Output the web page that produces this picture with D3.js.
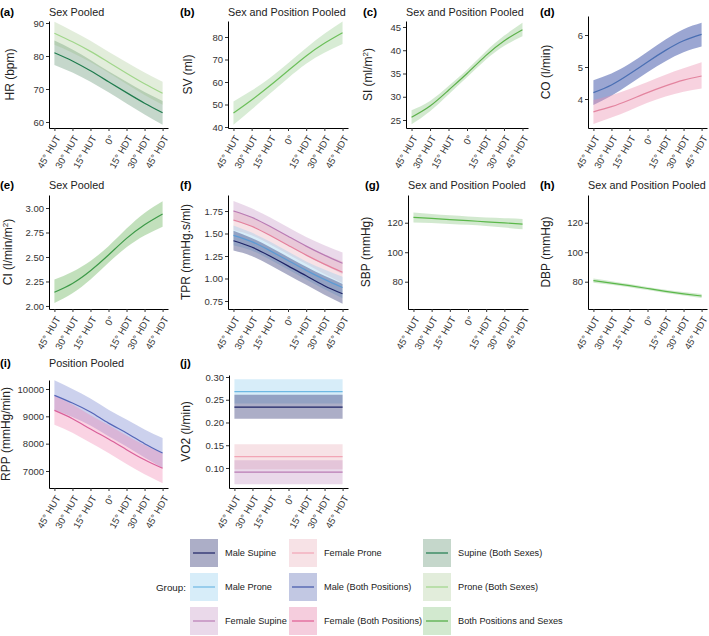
<!DOCTYPE html>
<html>
<head>
<meta charset="utf-8">
<script src="https://cdn.jsdelivr.net/npm/d3@7"></script>
<style>
  body { margin: 0; background: #fff; }
  svg { font-family: "Liberation Sans", Arial, sans-serif; }
  .axis .domain { stroke: #000; stroke-width: 1; }
  .axis .tick line { stroke: #333; stroke-width: 1; }
  .axis .tick text { font-size: 9.5px; fill: #333; }
  .tag { font-size: 11.5px; font-weight: bold; fill: #000; }
  .ptitle { font-size: 10.8px; fill: #222; }
  .ylab { font-size: 12px; fill: #222; }
  .legtext { font-size: 9.2px; fill: #222; }
</style>
</head>
<body>
<svg id="chart" width="709" height="636"></svg>
<script>
// x categories (tilt angle)
const angles = [-45, -30, -15, 0, 15, 30, 45];
const angleLabels = ["45° HUT", "30° HUT", "15° HUT", "0°", "15° HDT", "30° HDT", "45° HDT"];

// (a) HR
const hrSupine   = [81.0, 78.5, 75.5, 72.2, 68.9, 65.7, 62.8];
const hrSupineLo = [77.3, 75.0, 72.2, 69.0, 65.6, 62.3, 59.2];
const hrSupineHi = [84.7, 82.0, 78.8, 75.4, 72.2, 69.1, 66.4];
const hrProne    = [86.9, 84.3, 81.4, 78.1, 74.8, 71.6, 68.7];
const hrProneLo  = [83.4, 81.0, 78.2, 74.9, 71.5, 68.2, 65.2];
const hrProneHi  = [90.4, 87.6, 84.6, 81.3, 78.1, 75.0, 72.2];

// (b) SV
const sv   = [46.2, 52.0, 58.3, 65.0, 71.6, 77.2, 81.9];
const svLo = [41.0, 47.8, 54.8, 61.7, 68.1, 73.0, 76.9];
const svHi = [51.3, 56.2, 61.8, 68.3, 75.1, 81.4, 86.9];

// (c) SI
const si   = [25.6, 28.0, 31.4, 35.0, 38.8, 42.0, 44.4];
const siLo = [24.1, 26.9, 30.5, 34.2, 37.9, 40.9, 43.0];
const siHi = [27.1, 29.1, 32.3, 35.8, 39.7, 43.1, 45.9];

// (d) CO
const coMale     = [4.20, 4.44, 4.78, 5.16, 5.52, 5.82, 6.02];
const coMaleLo   = [3.81, 4.10, 4.46, 4.84, 5.18, 5.46, 5.64];
const coMaleHi   = [4.59, 4.80, 5.10, 5.48, 5.86, 6.18, 6.38];
const coFemale   = [3.60, 3.76, 3.97, 4.20, 4.41, 4.59, 4.72];
const coFemaleLo = [3.22, 3.42, 3.64, 3.88, 4.08, 4.23, 4.33];
const coFemaleHi = [3.97, 4.12, 4.31, 4.53, 4.76, 4.96, 5.15];

// (e) CI
const ci   = [2.14, 2.23, 2.36, 2.52, 2.69, 2.83, 2.94];
const ciLo = [2.03, 2.13, 2.27, 2.44, 2.60, 2.72, 2.81];
const ciHi = [2.27, 2.35, 2.46, 2.61, 2.79, 2.95, 3.07];

// (f) TPR
const tprFemaleSupine   = [1.75, 1.68, 1.58, 1.47, 1.36, 1.26, 1.17];
const tprFemaleSupineLo = [1.64, 1.58, 1.48, 1.37, 1.26, 1.15, 1.05];
const tprFemaleSupineHi = [1.86, 1.78, 1.68, 1.57, 1.46, 1.37, 1.29];
const tprFemaleProne    = [1.65, 1.58, 1.48, 1.37, 1.26, 1.16, 1.07];
const tprFemaleProneLo  = [1.54, 1.48, 1.38, 1.27, 1.16, 1.05, 0.95];
const tprFemaleProneHi  = [1.76, 1.68, 1.58, 1.47, 1.36, 1.27, 1.19];
const tprMaleProne      = [1.48, 1.41, 1.31, 1.20, 1.09, 0.99, 0.90];
const tprMaleProneLo    = [1.37, 1.31, 1.21, 1.10, 0.99, 0.88, 0.78];
const tprMaleProneHi    = [1.59, 1.51, 1.41, 1.30, 1.19, 1.10, 1.02];
const tprMaleSupine     = [1.42, 1.35, 1.25, 1.14, 1.03, 0.92, 0.83];
const tprMaleSupineLo   = [1.31, 1.25, 1.15, 1.04, 0.93, 0.82, 0.72];
const tprMaleSupineHi   = [1.53, 1.45, 1.35, 1.24, 1.13, 1.03, 0.94];

// (g) SBP
const sbp   = [123.6, 122.9, 122.1, 121.4, 120.6, 119.9, 119.1];
const sbpLo = [120.2, 119.8, 119.2, 118.6, 117.7, 116.7, 115.6];
const sbpHi = [127.0, 126.0, 125.0, 124.2, 123.5, 123.1, 122.6];

// (h) DBP
const dbp   = [80.7, 79.1, 77.3, 75.4, 73.5, 71.8, 70.3];
const dbpLo = [79.3, 77.9, 76.2, 74.3, 72.4, 70.6, 68.9];
const dbpHi = [82.1, 80.3, 78.4, 76.5, 74.6, 73.0, 71.7];

// (i) RPP
const rppMale     = [9767, 9486, 9155, 8752, 8390, 8000, 7657];
const rppMaleLo   = [9230, 8980, 8660, 8270, 7900, 7490, 7110];
const rppMaleHi   = [10318, 10000, 9650, 9240, 8880, 8520, 8208];
const rppFemale   = [9217, 8914, 8535, 8170, 7780, 7410, 7098];
const rppFemaleLo = [8690, 8400, 8030, 7660, 7260, 6880, 6550];
const rppFemaleHi = [9750, 9430, 9040, 8680, 8300, 7950, 7640];

// (j) VO2 - one estimate per group, flat across tilt
const vo2Groups = ["maleProne", "maleSupine", "femaleProne", "femaleSupine"];
const vo2Mean   = [0.268, 0.234, 0.125, 0.091];
const vo2Lo     = [0.242, 0.208, 0.097, 0.064];
const vo2Hi     = [0.295, 0.261, 0.152, 0.117];

// legend
const legendKeys = ["maleSupine", "maleProne", "femaleSupine",
                    "femaleProne", "maleBoth", "femaleBoth",
                    "supineBoth", "proneBoth", "allPooled"];
const legendLabels = ["Male Supine", "Male Prone", "Female Supine",
                      "Female Prone", "Male (Both Positions)", "Female (Both Positions)",
                      "Supine (Both Sexes)", "Prone (Both Sexes)", "Both Positions and Sexes"];

const groupStyle = {
  maleSupine:   {line: "#1d2366", fill: "#1d2366", op: 0.37},
  maleProne:    {line: "#6db8e3", fill: "#8ccbef", op: 0.35},
  femaleSupine: {line: "#b97bb4", fill: "#c08cbe", op: 0.33},
  femaleProne:  {line: "#f2a5b5", fill: "#e8a8b4", op: 0.33},
  maleBoth:     {line: "#4055a8", fill: "#4055a8", op: 0.32},
  femaleBoth:   {line: "#df5b92", fill: "#e06898", op: 0.33},
  supineBoth:   {line: "#1e7b4d", fill: "#2d6e45", op: 0.28},
  proneBoth:    {line: "#a0d68a", fill: "#8db870", op: 0.25},
  allPooled:    {line: "#4ca93e", fill: "#4ca93e", op: 0.25}
};

const svg = d3.select("#chart");
const xDomain = [-49.5, 49.5];

const panels = [
  {tag: "(a)", title: "Sex Pooled", ylab: ["HR (bpm)"], tagX: 0, ylabX: 10, box: [49, 168, 21, 128], row: 16,
   yDomain: [58.18, 90.61], yTicks: [60, 70, 80, 90], fmt: d3.format("d"),
   series: [
     {g: "supineBoth", m: hrSupine, lo: hrSupineLo, hi: hrSupineHi},
     {g: "proneBoth", m: hrProne, lo: hrProneLo, hi: hrProneHi}]},
  {tag: "(b)", title: "Sex and Position Pooled", ylab: ["SV (ml)"], tagX: 180, ylabX: 188, box: [228, 348, 21, 128], row: 16,
   yDomain: [39.56, 87.11], yTicks: [40, 50, 60, 70, 80], fmt: d3.format("d"),
   series: [{g: "allPooled", m: sv, lo: svLo, hi: svHi, line: "#6cbf5a", op: 0.22}]},
  {tag: "(c)", title: "Sex and Position Pooled", ylab: ["SI (ml/m", {sup: "2"}, ")"], tagX: 363, ylabX: 368, box: [406, 528, 21, 128], row: 16,
   yDomain: [23.28, 46.29], yTicks: [25, 30, 35, 40, 45], fmt: d3.format("d"),
   series: [{g: "allPooled", m: si, lo: siLo, hi: siHi, line: "#5cb04a"}]},
  {tag: "(d)", title: "", ylab: ["CO (l/min)"], tagX: 540, ylabX: 546, box: [588, 707, 16, 128], row: 16,
   yDomain: [3.094, 6.594], yTicks: [4, 5, 6], fmt: d3.format("d"),
   series: [
     {g: "maleBoth", m: coMale, lo: coMaleLo, hi: coMaleHi, line: "#4a6fb3", op: 0.52},
     {g: "femaleBoth", m: coFemale, lo: coFemaleLo, hi: coFemaleHi, line: "#e3849f", fill: "#ec8fb0", op: 0.4}]},
  {tag: "(e)", title: "Sex Pooled", ylab: ["CI (l/min/m", {sup: "2"}, ")"], tagX: 0, ylabX: 8, box: [49, 168, 195, 309], row: 189,
   yDomain: [1.969, 3.133], yTicks: [2.00, 2.25, 2.50, 2.75, 3.00], fmt: d3.format(".2f"),
   series: [{g: "allPooled", m: ci, lo: ciLo, hi: ciHi, line: "#3d9a48", fill: "#5fae4f", op: 0.38}]},
  {tag: "(f)", title: "", ylab: ["TPR (mmHg.s/ml)"], tagX: 180, ylabX: 186, box: [228, 348, 195, 309], row: 189,
   yDomain: [0.661, 1.928], yTicks: [0.75, 1.00, 1.25, 1.50, 1.75], fmt: d3.format(".2f"),
   series: [
     {g: "femaleSupine", m: tprFemaleSupine, lo: tprFemaleSupineLo, hi: tprFemaleSupineHi},
     {g: "femaleProne", m: tprFemaleProne, lo: tprFemaleProneLo, hi: tprFemaleProneHi, line: "#e5809c"},
     {g: "maleProne", m: tprMaleProne, lo: tprMaleProneLo, hi: tprMaleProneHi, line: "#5b9bd5"},
     {g: "maleSupine", m: tprMaleSupine, lo: tprMaleSupineLo, hi: tprMaleSupineHi}]},
  {tag: "(g)", title: "Sex and Position Pooled", ylab: ["SBP (mmHg)"], tagX: 365, ylabX: 366, box: [408, 528, 195, 309], row: 189,
   yDomain: [61.5, 138.8], yTicks: [80, 100, 120], fmt: d3.format("d"),
   series: [{g: "allPooled", m: sbp, lo: sbpLo, hi: sbpHi, line: "#5bb84a"}]},
  {tag: "(h)", title: "Sex and Position Pooled", ylab: ["DBP (mmHg)"], tagX: 540, ylabX: 546, box: [588, 707, 195, 309], row: 189,
   yDomain: [61.5, 138.8], yTicks: [80, 100, 120], fmt: d3.format("d"),
   series: [{g: "allPooled", m: dbp, lo: dbpLo, hi: dbpHi, line: "#5bb84a"}]},
  {tag: "(i)", title: "Position Pooled", ylab: ["RPP (mmHg/min)"], tagX: 0, ylabX: 6, box: [49, 168, 380, 488], row: 367,
   yDomain: [6378, 10329], yTicks: [7000, 8000, 9000, 10000], fmt: d3.format("d"),
   series: [
     {g: "maleBoth", m: rppMale, lo: rppMaleLo, hi: rppMaleHi, line: "#5566b8", fill: "#7a85d0", op: 0.38},
     {g: "femaleBoth", m: rppFemale, lo: rppFemaleLo, hi: rppFemaleHi, line: "#d9609a", fill: "#f080b0", op: 0.35}]},
  {tag: "(j)", title: "", ylab: ["VO2 (l/min)"], tagX: 180, ylabX: 186, box: [229, 348, 375, 488], row: 367,
   yDomain: [0.056, 0.3044], yTicks: [0.10, 0.15, 0.20, 0.25, 0.30], fmt: d3.format(".2f"),
   series: vo2Groups.map((g, i) => ({g: g,
     m: angles.map(() => vo2Mean[i]), lo: angles.map(() => vo2Lo[i]), hi: angles.map(() => vo2Hi[i])}))}
];

function drawPanel(p) {
  const g = svg.append("g");
  const x = d3.scaleLinear().domain(xDomain).range([p.box[0], p.box[1]]);
  const y = d3.scaleLinear().domain(p.yDomain).range([p.box[3], p.box[2]]);

  const area = d3.area().curve(d3.curveNatural)
    .x(d => x(d.a)).y0(d => y(d.lo)).y1(d => y(d.hi));
  const line = d3.line().curve(d3.curveNatural)
    .x(d => x(d.a)).y(d => y(d.m));

  const rowsOf = s => angles.map((a, i) => ({a: a, m: s.m[i], lo: s.lo[i], hi: s.hi[i]}));

  p.series.forEach(s => {
    const st = groupStyle[s.g];
    g.append("path").datum(rowsOf(s))
      .attr("d", area)
      .attr("fill", s.fill || st.fill)
      .attr("fill-opacity", s.op != null ? s.op : st.op);
  });
  p.series.forEach(s => {
    const st = groupStyle[s.g];
    g.append("path").datum(rowsOf(s))
      .attr("d", line)
      .attr("fill", "none")
      .attr("stroke", s.line || st.line)
      .attr("stroke-width", 1.2);
  });

  // y axis
  g.append("g").attr("class", "axis")
    .attr("transform", "translate(" + p.box[0] + ",0)")
    .call(d3.axisLeft(y).tickValues(p.yTicks).tickFormat(p.fmt).tickSize(3).tickSizeOuter(0).tickPadding(2));

  // x axis
  g.append("g").attr("class", "axis")
    .attr("transform", "translate(0," + p.box[3] + ")")
    .call(d3.axisBottom(x).tickValues(angles).tickFormat((d, i) => angleLabels[i]).tickSize(3).tickSizeOuter(0))
    .selectAll(".tick text")
    .attr("x", 0).attr("y", 0).attr("dy", "0.35em")
    .attr("text-anchor", "end")
    .attr("transform", "translate(3,8) rotate(-60)");

  // y axis title
  const yl = g.append("text").attr("class", "ylab")
    .attr("text-anchor", "middle")
    .attr("transform", "translate(" + p.ylabX + "," + ((p.box[2] + p.box[3]) / 2) + ") rotate(-90)")
    .attr("dy", "0.35em");
  p.ylab.forEach(part => {
    if (typeof part === "string") yl.append("tspan").text(part);
    else yl.append("tspan").attr("baseline-shift", "super").attr("font-size", "8px").text(part.sup);
  });

  g.append("text").attr("class", "tag").attr("x", p.tagX).attr("y", p.row).text(p.tag);
  if (p.title) g.append("text").attr("class", "ptitle").attr("x", p.box[0]).attr("y", p.row).text(p.title);
}

panels.forEach(drawPanel);

// legend
const legX = [190, 289, 423];
const legY = [539, 573, 607];
const keySize = 28;
const leg = svg.append("g");
leg.append("text").attr("class", "legtext").attr("x", 156).attr("y", 588)
  .attr("dy", "0.35em").style("font-size", "9.8px").text("Group:");

legendKeys.forEach((k, i) => {
  const cx = legX[Math.floor(i / 3)], cy = legY[i % 3];
  const st = groupStyle[k];
  const item = leg.append("g").attr("transform", "translate(" + cx + "," + cy + ")");
  item.append("rect").attr("width", keySize).attr("height", keySize)
    .attr("fill", st.fill).attr("fill-opacity", st.op);
  item.append("line").attr("x1", 3).attr("x2", keySize - 3)
    .attr("y1", keySize / 2).attr("y2", keySize / 2)
    .attr("stroke", st.line).attr("stroke-width", 1.2);
  item.append("text").attr("class", "legtext").attr("x", keySize + 7).attr("y", keySize / 2)
    .attr("dy", "0.35em").text(legendLabels[i]);
});
</script>
</body>
</html>
